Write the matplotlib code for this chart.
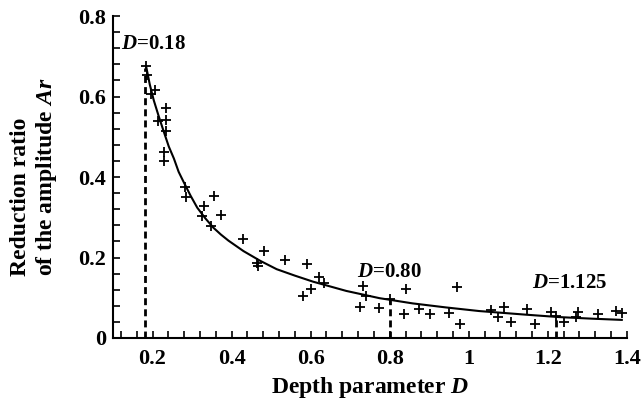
import numpy as np
import matplotlib
matplotlib.use('Agg')
import matplotlib.pyplot as plt
from matplotlib.ticker import MultipleLocator

plt.rcParams['font.family'] = 'Liberation Serif'
plt.rcParams['font.weight'] = 'bold'
plt.rcParams['mathtext.fontset'] = 'custom'
plt.rcParams['mathtext.it'] = 'Liberation Serif:italic:bold'
plt.rcParams['mathtext.rm'] = 'Liberation Serif:bold'

# measured points (depth parameter D, reduction ratio Ar)
D_meas = [0.184, 0.187, 0.205, 0.195, 0.235, 0.214, 0.234, 0.235, 0.229, 0.229,
          0.281, 0.284, 0.355, 0.329, 0.324, 0.373, 0.349, 0.430, 0.481, 0.465,
          0.468, 0.535, 0.590, 0.621, 0.634, 0.600, 0.580, 0.732, 0.739, 0.725,
          0.773, 0.800, 0.840, 0.837, 0.873, 0.903, 0.951, 0.969, 0.977, 1.056,
          1.074, 1.088, 1.106, 1.148, 1.167, 1.207, 1.221, 1.241, 1.270, 1.276,
          1.327, 1.372, 1.387]
Ar_meas = [0.676, 0.653, 0.616, 0.606, 0.571, 0.540, 0.542, 0.514, 0.462, 0.439,
           0.376, 0.351, 0.354, 0.329, 0.303, 0.306, 0.279, 0.245, 0.215, 0.186,
           0.180, 0.194, 0.183, 0.152, 0.137, 0.123, 0.105, 0.129, 0.105, 0.078,
           0.075, 0.096, 0.121, 0.060, 0.071, 0.060, 0.061, 0.127, 0.036, 0.070,
           0.053, 0.076, 0.040, 0.071, 0.036, 0.065, 0.055, 0.039, 0.051, 0.065,
           0.060, 0.068, 0.061]

# fitted curve
D_fit = [0.184, 0.193, 0.203, 0.215, 0.228, 0.241, 0.254, 0.266, 0.279, 0.296,
         0.313, 0.333, 0.354, 0.373, 0.392, 0.430, 0.472, 0.514, 0.560, 0.606,
         0.690, 0.774, 0.858, 0.942, 1.026, 1.144, 1.228, 1.312, 1.387]
Ar_fit = [0.674, 0.630, 0.591, 0.553, 0.514, 0.476, 0.446, 0.413, 0.387, 0.354,
          0.324, 0.298, 0.274, 0.257, 0.242, 0.216, 0.192, 0.171, 0.155, 0.140,
          0.117, 0.099, 0.086, 0.076, 0.067, 0.058, 0.052, 0.048, 0.045]

# dashed markers: (D, top of dashed line)
mark_D = [0.18, 0.80, 1.22]
mark_top = [0.67, 0.096, 0.05]
mark_text = ['$D$=0.18', '$D$=0.80', '$D$=1.125']
text_pos = [(0.12, 0.73), (0.716, 0.164), (1.16, 0.137)]

fig = plt.figure(figsize=(6.44, 4.03), dpi=100)
ax = fig.add_axes([0.1755, 0.1613, 0.798, 0.7987])

ax.plot(D_meas, Ar_meas, '+', color='black', markersize=6.5, markeredgewidth=1.3)
ax.plot(D_fit, Ar_fit, '-', color='black', linewidth=1.5)

for d, top in zip(mark_D, mark_top):
    ax.plot([d, d], [0, top], color='black', linewidth=2, linestyle=(0, (2.5, 1.5)))

for txt, (tx, ty) in zip(mark_text, text_pos):
    ax.text(tx, ty, txt, fontsize=15, fontweight='bold', va='center', ha='left')

ax.set_xlim(0.1, 1.4)
ax.set_ylim(0, 0.8)
ax.xaxis.set_major_locator(MultipleLocator(0.2))
ax.xaxis.set_minor_locator(MultipleLocator(0.04))
ax.yaxis.set_major_locator(MultipleLocator(0.2))
ax.yaxis.set_minor_locator(MultipleLocator(0.04))
ax.xaxis.set_major_formatter(plt.FuncFormatter(lambda v, p: '%g' % round(v, 2)))
ax.yaxis.set_major_formatter(plt.FuncFormatter(lambda v, p: '%g' % round(v, 2)))

for s in ['top', 'right']:
    ax.spines[s].set_visible(False)
for s in ['left', 'bottom']:
    ax.spines[s].set_linewidth(1.5)

ax.tick_params(which='both', direction='in', length=5, width=1.2, labelsize=16)
ax.tick_params(axis='x', pad=8)
ax.tick_params(axis='y', pad=5)

ax.set_xlabel('Depth parameter $D$', fontsize=17, fontweight='bold', labelpad=4)
ax.set_ylabel('Reduction ratio\nof the amplitude $Ar$', fontsize=17, fontweight='bold',
              labelpad=14, linespacing=1.15, multialignment='left')

fig.savefig('out.png', dpi=100)
